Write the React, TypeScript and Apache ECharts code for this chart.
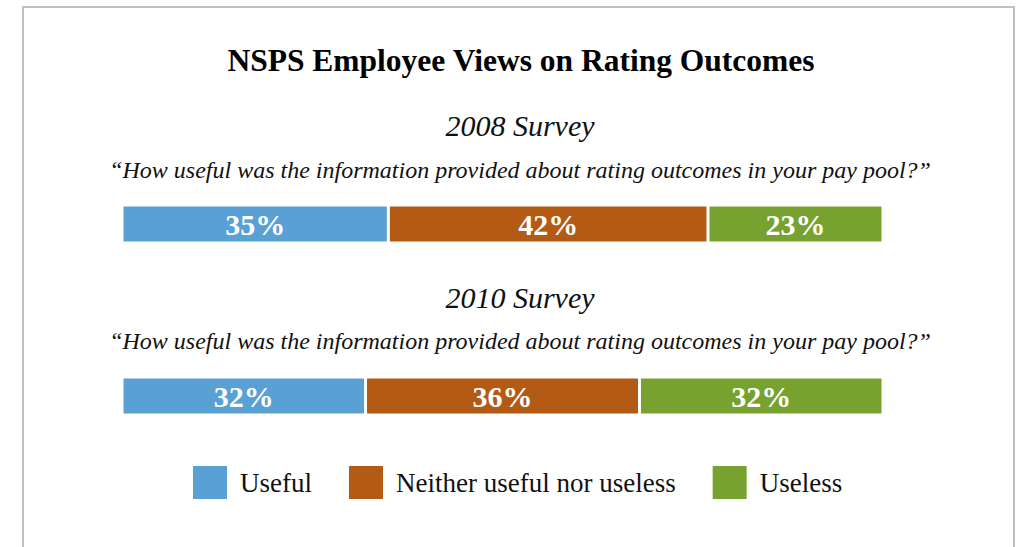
import React, { useEffect, useRef } from "react";
import * as echarts from "echarts";

const title = "NSPS Employee Views on Rating Outcomes";
const surveys = ["2008 Survey", "2010 Survey"];
const question = "\u201CHow useful was the information provided about rating outcomes in your pay pool?\u201D";
const seriesNames = ["Useful", "Neither useful nor useless", "Useless"];
const colors = ["#59A1D5", "#B35A14", "#78A230"];
const values2008 = [35, 42, 23];
const values2010 = [32, 36, 32];
const allValues = [values2008, values2010];

const SERIF = "'Liberation Serif', 'DejaVu Serif', serif";

export default function App() {
  const ref = useRef<HTMLDivElement>(null);
  useEffect(() => {
    document.body.style.margin = "0";
    const chart = echarts.init(ref.current!, undefined, { renderer: "svg" });
    const gridTops = [205, 377];
    const grids = gridTops.map((t) => ({ left: 122, right: 133, top: t, height: 38 }));
    const xAxes = grids.map((_, i) => ({
      type: "value",
      gridIndex: i,
      min: 0,
      max: 100,
      show: false,
    }));
    const yAxes = grids.map((_, i) => ({
      type: "category",
      gridIndex: i,
      data: [surveys[i]],
      show: false,
    }));
    const series: any[] = [];
    allValues.forEach((vals, gi) => {
      vals.forEach((v, si) => {
        series.push({
          type: "bar",
          name: seriesNames[si],
          stack: "s" + gi,
          xAxisIndex: gi,
          yAxisIndex: gi,
          barWidth: 38,
          data: [v],
          itemStyle: { color: colors[si], borderColor: "#fff", borderWidth: 1.5 },
          label: {
            show: true,
            position: "inside",
            formatter: "{c}%",
            color: "#fff",
            fontFamily: SERIF,
            fontWeight: "bold",
            fontSize: 30,
          },
        });
      });
    });
    chart.setOption({
      animation: false,
      backgroundColor: "#fff",
      color: colors,
      grid: grids,
      xAxis: xAxes,
      yAxis: yAxes,
      series,
      legend: {
        data: seriesNames,
        top: 459,
        left: 186,
        itemWidth: 36,
        itemHeight: 35,
        itemGap: 35,
        icon: "rect",
        selectedMode: false,
        textStyle: {
          fontFamily: SERIF,
          fontSize: 27,
          color: "#111",
          padding: [0, 0, 0, 7],
        },
      },
      graphic: [
        {
          type: "rect",
          shape: { x: 23, y: 7, width: 991, height: 600 },
          style: { fill: "none", stroke: "#c0c0c0", lineWidth: 2 },
          silent: true,
        },
        {
          type: "text",
          x: 521,
          y: 60,
          style: {
            text: title,
            fontFamily: SERIF,
            fontWeight: "bold",
            fontSize: 31.5,
            fill: "#000",
            align: "center",
            verticalAlign: "middle",
          },
        },
        ...surveys.map((s, i) => ({
          type: "text",
          x: 520,
          y: [125, 297][i],
          style: {
            text: s,
            fontFamily: SERIF,
            fontStyle: "italic",
            fontSize: 30,
            fill: "#111",
            align: "center",
            verticalAlign: "middle",
          },
        })),
        ...surveys.map((_, i) => ({
          type: "text",
          x: 520,
          y: [170, 341][i],
          style: {
            text: question,
            fontFamily: SERIF,
            fontStyle: "italic",
            fontSize: 24,
            fill: "#111",
            align: "center",
            verticalAlign: "middle",
          },
        })),
      ],
    });
    return () => chart.dispose();
  }, []);
  return <div ref={ref} style={{ width: 1016, height: 547 }} />;
}
